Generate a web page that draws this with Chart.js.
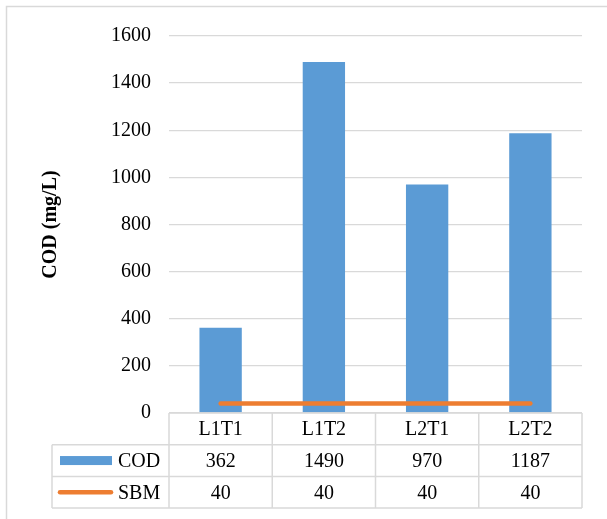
<!DOCTYPE html>
<html lang="en">
<head>
  <meta charset="UTF-8" />
  <title>COD chart</title>
  <script src="https://cdn.jsdelivr.net/npm/chart.js"></script>
  <style>
    body { margin: 0; background: #fff; }
    #wrap { position: relative; width: 607px; height: 519px; }
  </style>
</head>
<body>
  <div id="wrap"><canvas id="codChart" width="607" height="519"></canvas></div>
<script>
// data
const categorias = ['L1T1', 'L1T2', 'L2T1', 'L2T2'];
const valoresCOD = [362, 1490, 970, 1187];
const valoresSBM = [40, 40, 40, 40];
const nomesSeries = ['COD', 'SBM'];

const corCOD = '#5B9BD5';
const corSBM = '#ED7D31';
const corGrade = '#D9D9D9';
const fonte = '"Liberation Serif", "Times New Roman", serif';

// outer frame + data table under the plot
const tabelaPlugin = {
  id: 'tabela',
  beforeDraw(chart) {
    const ctx = chart.ctx;
    ctx.save();
    ctx.fillStyle = '#fff';
    ctx.fillRect(0, 0, chart.width, chart.height);
    ctx.strokeStyle = corGrade;
    ctx.lineWidth = 1.5;
    ctx.strokeRect(6.5, 6.5, chart.width + 20, chart.height + 20);
    ctx.restore();
  },
  afterDraw(chart) {
    const ctx = chart.ctx;
    const x = chart.scales.x;
    const area = chart.chartArea;
    const larg = (area.right - area.left) / categorias.length;
    const alt = 31.7;
    const topo = area.bottom;
    const esq = 52;

    ctx.save();
    ctx.strokeStyle = corGrade;
    ctx.lineWidth = 1.5;
    ctx.beginPath();
    // horizontal lines
    ctx.moveTo(area.left, topo); ctx.lineTo(area.right, topo);
    for (let r = 1; r <= 3; r++) {
      ctx.moveTo(esq, topo + alt * r); ctx.lineTo(area.right, topo + alt * r);
    }
    // vertical lines
    ctx.moveTo(esq, topo + alt); ctx.lineTo(esq, topo + alt * 3);
    for (let i = 0; i <= categorias.length; i++) {
      const xx = area.left + larg * i;
      ctx.moveTo(xx, topo); ctx.lineTo(xx, topo + alt * 3);
    }
    ctx.stroke();

    ctx.fillStyle = '#000';
    ctx.font = '20px ' + fonte;
    ctx.textAlign = 'center';
    ctx.textBaseline = 'middle';
    for (let i = 0; i < categorias.length; i++) {
      const cx = x.getPixelForValue(i);
      ctx.fillText(categorias[i], cx, topo + alt * 0.5 + 1);
      ctx.fillText(String(valoresCOD[i]), cx, topo + alt * 1.5 + 1);
      ctx.fillText(String(valoresSBM[i]), cx, topo + alt * 2.5 + 1);
    }

    // legend keys
    const y1 = topo + alt * 1.5;
    const y2 = topo + alt * 2.5;
    ctx.fillStyle = corCOD;
    ctx.fillRect(60, y1 - 4.5, 52, 9);
    ctx.strokeStyle = corSBM;
    ctx.lineWidth = 4.5;
    ctx.lineCap = 'round';
    ctx.beginPath();
    ctx.moveTo(60, y2); ctx.lineTo(111, y2);
    ctx.stroke();

    ctx.fillStyle = '#000';
    ctx.textAlign = 'left';
    ctx.fillText(nomesSeries[0], 118, y1 + 1);
    ctx.fillText(nomesSeries[1], 118, y2 + 1);
    ctx.restore();
  }
};

const dados = {
  labels: categorias,
  datasets: [
    {
      type: 'line',
      label: nomesSeries[1],
      data: valoresSBM,
      borderColor: corSBM,
      backgroundColor: corSBM,
      borderWidth: 4.5,
      borderCapStyle: 'round',
      pointRadius: 0,
      order: 0
    },
    {
      type: 'bar',
      label: nomesSeries[0],
      data: valoresCOD,
      backgroundColor: corCOD,
      barPercentage: 0.41,
      categoryPercentage: 1.0,
      order: 1
    }
  ]
};

const config = {
  type: 'bar',
  data: dados,
  options: {
    responsive: false,
    animation: false,
    layout: { padding: { left: 0, top: 36, right: 25, bottom: 106 } },
    plugins: {
      legend: { display: false },
      tooltip: { enabled: false }
    },
    scales: {
      x: { display: false },
      y: {
        min: 0,
        max: 1600,
        ticks: {
          stepSize: 200,
          padding: 18,
          color: '#000',
          font: { family: fonte, size: 20 },
          callback: (v) => String(v)
        },
        grid: { color: corGrade, lineWidth: 1.3, drawTicks: false },
        border: { display: false },
        title: {
          display: true,
          text: 'COD (mg/L)',
          color: '#000',
          font: { family: fonte, size: 20, weight: 'bold' },
          padding: { top: 39 }
        },
        afterFit(scale) { scale.width = 169; }
      }
    }
  },
  plugins: [tabelaPlugin]
};

let meuGrafico = new Chart(document.getElementById('codChart'), config);
</script>
</body>
</html>
